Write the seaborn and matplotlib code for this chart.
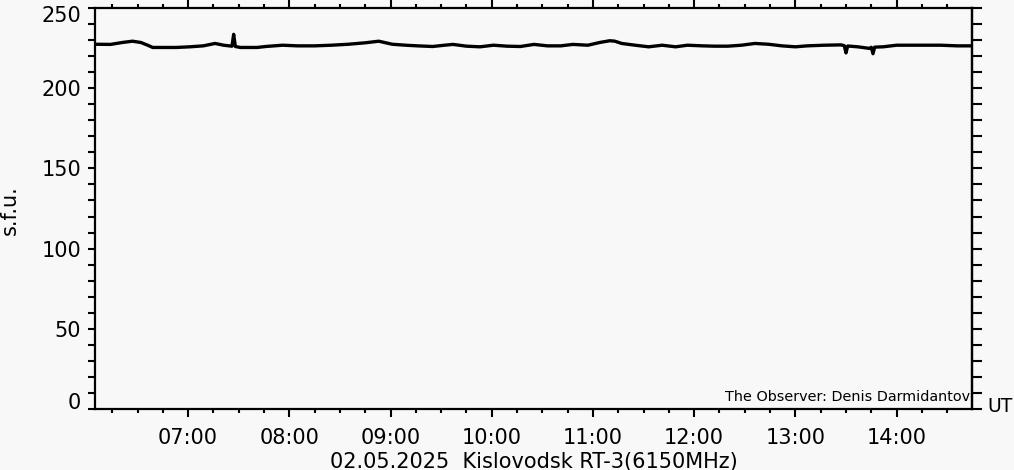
import matplotlib
matplotlib.use("Agg")
import matplotlib.pyplot as plt
import matplotlib.ticker as mticker
import matplotlib.transforms as mtransforms
import seaborn as sns
import pandas as pd

# ---- data ----
times = ["06:05", "06:14", "06:21", "06:27", "06:32", "06:36", "06:39", "06:45", "06:53",
         "07:01", "07:09", "07:16", "07:21", "07:26", "07:27", "07:28", "07:31", "07:41",
         "07:46", "07:56", "08:05", "08:15", "08:25", "08:35", "08:45", "08:53", "09:01",
         "09:09", "09:16", "09:25", "09:32", "09:37", "09:45", "09:53", "10:01", "10:09",
         "10:17", "10:25", "10:33", "10:41", "10:48", "10:57", "11:04", "11:10", "11:13",
         "11:17", "11:25", "11:33", "11:41", "11:49", "11:56", "12:05", "12:12", "12:20",
         "12:28", "12:36", "12:44", "12:52", "13:00", "13:07", "13:17", "13:27", "13:29",
         "13:30", "13:31", "13:37", "13:44", "13:45", "13:46", "13:47", "13:52", "14:00",
         "14:08", "14:16", "14:26", "14:36", "14:45"]
flux = [227.4, 227.3, 228.5, 229.3, 228.5, 226.8, 225.4, 225.4, 225.4,
        225.8, 226.4, 227.9, 226.8, 226.2, 233.6, 226.0, 225.4, 225.4,
        226.0, 226.8, 226.4, 226.4, 226.8, 227.4, 228.3, 229.3, 227.4,
        226.8, 226.4, 226.0, 226.8, 227.3, 226.2, 225.8, 226.8, 226.2,
        226.0, 227.3, 226.4, 226.4, 227.3, 226.8, 228.5, 229.6, 229.3,
        227.9, 226.8, 225.8, 226.8, 225.8, 226.8, 226.4, 226.2, 226.2,
        226.8, 227.9, 227.4, 226.4, 225.8, 226.4, 226.8, 227.0, 226.5,
        222.0, 226.3, 225.8, 224.8, 225.5, 221.5, 225.6, 225.8, 226.8,
        226.8, 226.8, 226.8, 226.4, 226.4]
hour_ticks = [7, 8, 9, 10, 11, 12, 13, 14]
y_ticks = [0, 50, 100, 150, 200, 250]

title_text = "02.05.2025  Kislovodsk RT-3(6150MHz)"
observer_text = "The Observer: Denis Darmidantov"
y_label = "s.f.u."
x_unit = "UT"

# ---- build frame ----
df = pd.DataFrame({"time": times, "flux": flux})
tt = pd.to_datetime(df["time"], format="%H:%M")
df["hour"] = tt.dt.hour + tt.dt.minute / 60.0

bg = "#f8f8f8"
sns.set_theme(style="ticks", rc={"figure.facecolor": bg, "axes.facecolor": bg,
                                 "savefig.facecolor": bg, "text.color": "black",
                                 "xtick.color": "black", "ytick.color": "black",
                                 "axes.labelcolor": "black", "axes.edgecolor": "black"})
plt.rcParams["font.family"] = ["DejaVu Sans"]

fig = plt.figure(figsize=(10.14, 4.70), dpi=100)
ax = fig.add_axes([95 / 1014, 61 / 470, 877 / 1014, 401 / 470])

sns.lineplot(data=df, x="hour", y="flux", ax=ax, color="black", linewidth=2.4)

ax.set_xlim(6.08, 14.745)
ax.set_ylim(0, 250)

for s in ax.spines.values():
    s.set_color("black")
    s.set_linewidth(1.6)

ax.xaxis.set_major_locator(mticker.FixedLocator(hour_ticks))
ax.xaxis.set_minor_locator(mticker.MultipleLocator(0.25))
ax.xaxis.set_major_formatter(mticker.FuncFormatter(lambda v, p: f"{int(round(v)):02d}:00"))
ax.yaxis.set_major_locator(mticker.FixedLocator(y_ticks))
ax.yaxis.set_minor_locator(mticker.MultipleLocator(10))

ax.tick_params(axis="x", which="major", direction="out", length=5.8, width=1.5,
               top=True, bottom=True, labelsize=15, pad=8)
ax.tick_params(axis="x", which="minor", direction="out", length=2.7, width=1.5,
               top=True, bottom=True)
ax.tick_params(axis="y", which="both", direction="out", length=5.0, width=1.5,
               left=True, right=False, labelsize=15, pad=5)

# right-side ticks (longer, no labels)
sec = ax.secondary_yaxis("right")
sec.yaxis.set_major_locator(mticker.FixedLocator(y_ticks))
sec.yaxis.set_minor_locator(mticker.MultipleLocator(10))
sec.tick_params(axis="y", which="both", direction="out", length=7.2, width=1.5,
                labelright=False)
sec.spines["right"].set_linewidth(1.6)

ax.set_xlabel("")
ax.set_ylabel(y_label, fontsize=15)
ax.yaxis.set_label_coords(-0.0855, 0.495)

fig.canvas.draw()
up = mtransforms.ScaledTranslation(0, 1.5 / 100, fig.dpi_scale_trans)
for lab in ax.get_yticklabels():
    if lab.get_text() == "0":
        lab.set_va("baseline")
    elif lab.get_text() == "250":
        lab.set_va("top")
        lab.set_transform(lab.get_transform() + up)

ax.text(0.998, 8 / 401, observer_text, transform=ax.transAxes, ha="right", va="baseline",
        fontsize=10.4, color="black")
fig.text(533.5 / 1014, 1 - 452 / 470, title_text, ha="center", va="top", fontsize=15)
fig.text(987 / 1014, 1 - 407 / 470, x_unit, ha="left", va="center", fontsize=13.5)

fig.savefig("out.png", dpi=100)
